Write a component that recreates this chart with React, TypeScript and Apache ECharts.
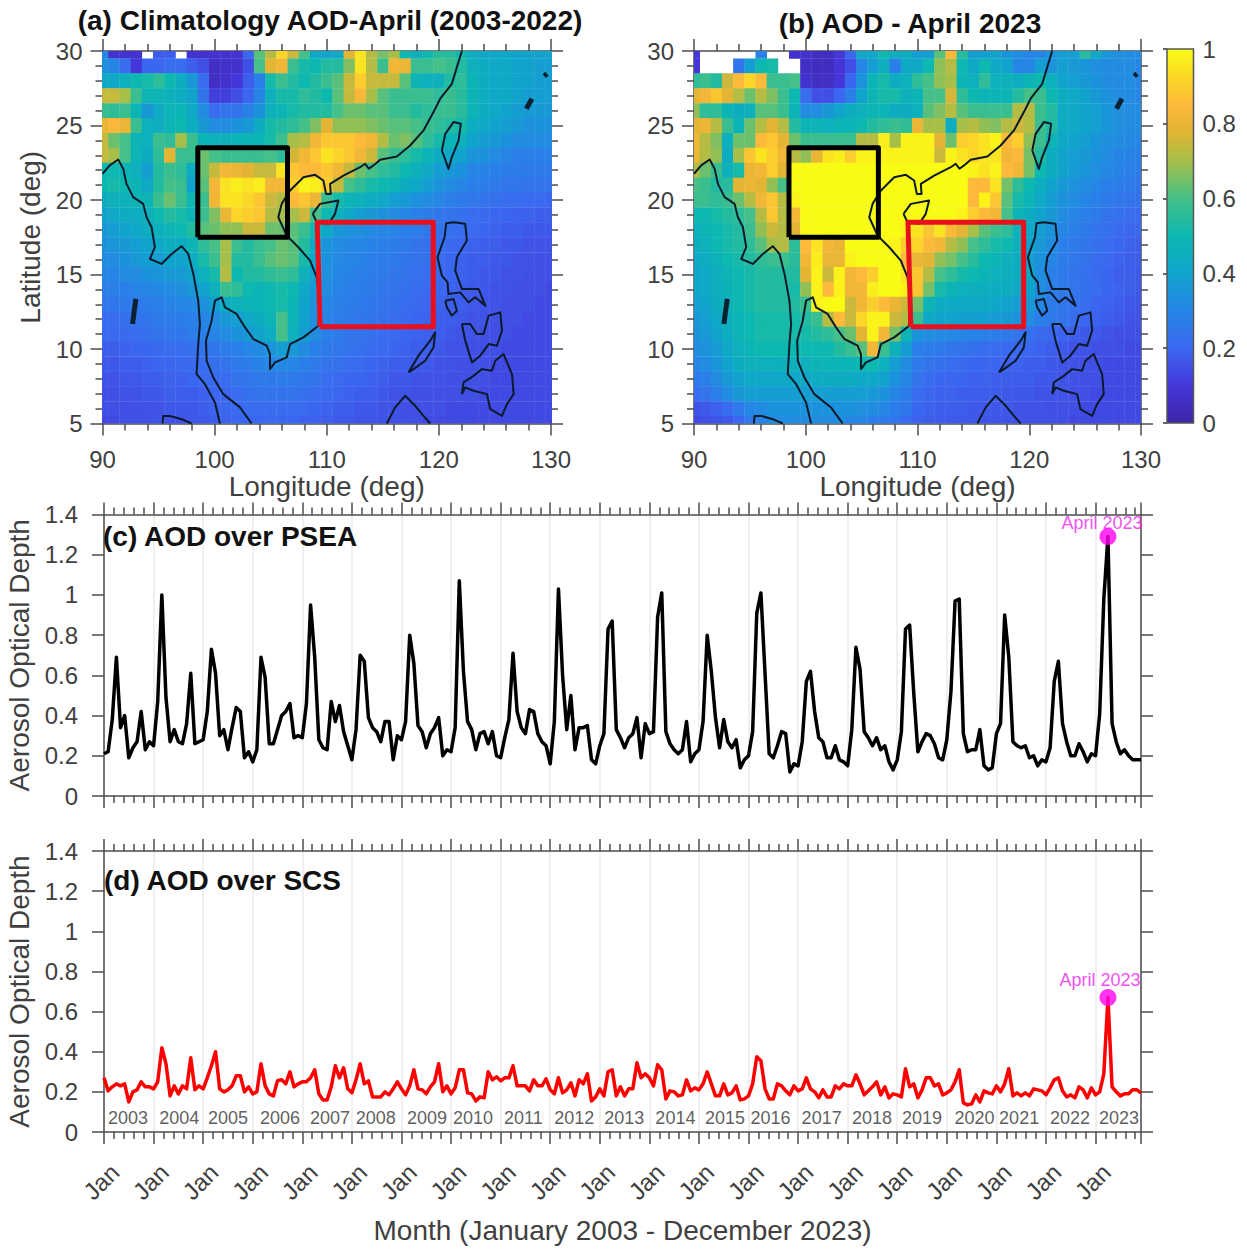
import React, { useEffect, useRef } from "react";
import * as echarts from "echarts";

const _ = null;
const FONT = '"Liberation Sans", Arial, sans-serif';

const latitudes = [30,29,28,27,26,25,24,23,22,21,20,19,18,17,16,15,14,13,12,11,10,9,8,7,6,5];
const longitudeStart = 90;

const climatologyAod = [
[30,8,8,8,_,18,18,_,8,8, 8,8,8,20,62,72,92,75,60,42, 40,42,78,95,72,65,70,50,45,50, 55,55,50,45,42,42,42,40,40,40, 40],
[34,30,22,10,20,20,22,22,18,15, 6,7,8,15,60,78,82,58,52,50, 54,54,66,95,72,58,82,80,58,58, 60,58,54,46,44,42,42,40,40,38, 38],
[42,42,46,50,52,56,50,44,36,22, 6,8,10,18,28,52,58,54,50,54, 58,62,74,90,74,74,74,62,48,46, 46,54,56,48,44,42,42,40,40,38, 38],
[74,74,70,58,48,48,46,44,40,24, 12,12,15,20,30,46,52,52,56,54, 50,62,74,84,70,62,58,58,58,58, 56,58,55,48,44,42,42,40,38,38, 38],
[58,56,58,48,36,42,48,48,42,32, 22,24,24,28,34,46,48,52,54,54, 54,60,64,64,62,62,58,58,54,56, 58,58,55,48,44,42,40,38,36,36, 36],
[80,84,80,58,46,44,48,50,44,36, 32,32,34,36,44,52,54,56,60,66, 78,68,68,68,66,64,62,62,60,58, 56,54,52,44,42,40,38,36,34,34, 34],
[74,64,60,48,46,58,56,70,58,48, 46,46,48,48,48,52,58,70,72,82, 88,88,88,85,82,72,64,66,62,56, 52,48,46,40,38,36,34,32,32,32, 32],
[74,70,60,48,44,56,78,58,58,64, 60,58,58,58,58,60,56,76,82,88, 95,92,88,82,75,62,58,56,52,48, 44,42,40,35,34,32,30,28,28,28, 28],
[50,50,48,46,38,54,58,56,44,64, 74,82,80,78,74,74,95,88,85,85, 88,82,74,64,60,56,54,50,46,42, 38,36,34,30,29,28,27,27,26,26, 26],
[50,52,50,48,42,54,60,58,40,62, 82,95,97,95,97,82,82,90,98,97, 90,74,60,56,52,50,48,44,42,38, 34,32,30,28,27,26,25,25,24,24, 24],
[44,46,46,48,48,58,64,58,50,58, 82,95,95,92,88,75,72,85,88,80, 58,52,48,46,44,42,38,36,34,32, 30,28,26,25,24,23,22,22,21,21, 20],
[40,42,44,44,46,50,54,52,48,58, 66,80,92,90,88,72,70,70,75,60, 50,46,42,38,36,34,32,30,28,27, 25,24,23,22,21,20,20,19,19,18, 18],
[36,38,40,42,44,46,48,50,54,62, 64,68,68,75,75,64,64,62,58,50, 42,36,34,33,31,30,29,28,27,25, 24,23,22,21,20,19,18,18,17,17, 17],
[34,35,36,38,40,42,44,44,48,56, 60,70,58,54,58,60,64,62,54,42, 35,32,31,30,29,28,27,26,24,23, 22,21,20,19,18,18,17,17,16,16, 16],
[32,32,34,36,38,38,40,40,44,52, 58,70,54,54,58,62,64,62,52,40, 34,31,30,29,28,27,26,25,24,23, 22,20,19,18,18,17,17,16,16,15, 15],
[30,30,32,32,34,35,36,37,40,46, 52,72,50,54,54,56,58,56,46,38, 33,30,29,28,27,26,25,24,23,22, 21,20,19,18,17,17,16,16,15,15, 15],
[28,28,28,29,30,31,32,33,36,40, 46,58,56,50,48,50,52,50,42,36, 32,29,28,27,26,25,24,23,22,21, 20,19,18,17,17,16,16,15,15,15, 14],
[25,25,26,26,27,28,29,30,31,34, 38,44,46,48,48,50,52,48,40,34, 30,28,27,26,25,24,23,22,21,20, 19,18,18,17,16,16,15,15,15,14, 14],
[22,22,23,24,25,26,27,27,28,30, 32,36,38,42,44,48,60,48,40,33, 29,27,26,25,24,23,22,21,20,19, 18,18,17,16,16,15,15,15,14,14, 14],
[21,21,21,22,23,24,25,25,27,28, 30,32,34,36,40,44,60,46,38,32, 28,26,25,24,23,22,21,20,19,18, 18,17,16,16,15,15,15,14,14,14, 14],
[18,18,19,20,20,21,22,22,23,24, 25,27,28,30,32,35,38,36,32,28, 26,25,24,23,22,21,20,19,18,18, 17,16,16,15,15,15,14,14,14,14, 14],
[17,17,18,18,19,20,20,21,21,22, 23,24,26,27,29,30,31,30,28,26, 24,23,22,21,20,19,18,18,17,17, 16,16,15,15,15,14,14,14,14,14, 14],
[16,16,17,17,18,18,19,19,20,21, 21,22,24,25,26,26,27,26,25,24, 22,21,20,20,19,18,17,17,16,16, 16,15,15,15,15,14,14,14,14,14, 14],
[15,15,16,16,17,17,18,18,18,19, 20,20,22,23,24,24,24,24,23,22, 21,20,19,18,18,17,16,16,15,15, 15,15,15,15,14,14,14,14,14,14, 14],
[15,15,15,15,16,16,17,17,17,18, 19,20,21,22,22,22,22,22,21,20, 19,18,18,17,17,16,16,15,15,15, 15,14,14,14,14,14,14,14,14,14, 14],
[14,14,15,15,15,16,16,16,17,17, 18,19,20,20,20,21,20,20,19,19, 18,17,17,16,16,16,15,15,15,14, 14,14,14,14,14,14,14,14,14,14, 14],
];

const april2023Aod = [
[10,_,_,_,_,_,28,_,_,8, 8,5,5,10,20,42,42,50,45,45, 38,38,62,85,55,38,38,40,35,32, 30,30,35,38,38,55,42,35,33,32, 32],
[10,_,_,_,25,38,50,52,_,_, 6,5,5,10,15,30,38,45,28,42, 42,50,68,72,50,42,50,42,40,30, 30,38,35,38,36,35,33,32,32,32, 30],
[56,58,54,75,85,92,85,58,58,60, 8,6,6,10,20,34,48,52,44,46, 56,60,68,70,48,46,56,46,46,44, 48,50,46,40,38,36,34,32,32,32, 30],
[78,82,88,78,72,64,72,66,58,50, 22,15,15,20,28,40,48,52,52,46, 48,60,60,76,56,50,48,48,48,54, 60,58,50,44,42,40,36,34,32,32, 30],
[68,56,56,48,44,46,62,62,58,48, 32,32,36,40,44,46,48,48,44,44, 46,62,66,72,62,58,58,58,58,72, 72,58,54,44,42,40,38,35,33,32, 32],
[78,80,72,58,48,64,72,78,72,54, 48,48,46,48,48,50,54,56,58,56, 80,70,70,44,70,72,68,66,72,75, 72,58,54,44,42,40,38,35,33,32, 32],
[82,72,66,46,64,64,85,88,78,64, 58,58,58,58,58,72,72,97,70,98, 98,98,78,64,90,92,95,98,85,90, 68,58,48,42,40,38,35,33,32,31, 30],
[80,72,68,44,70,88,95,90,82,72, 68,80,95,97,90,98,98,98,98,98, 98,98,75,98,95,92,95,95,82,85, 65,54,44,40,38,36,34,32,30,29, 28],
[72,64,58,46,52,80,82,90,78,100, 100,100,100,100,100,100,100,100,100,100, 100,100,100,100,100,98,95,98,85,82, 65,50,44,40,37,35,33,31,29,28, 27],
[60,58,54,55,78,80,78,68,60,100, 100,100,100,100,100,100,100,100,100,100, 100,100,100,100,100,85,85,95,65,56, 50,44,40,36,34,32,30,28,27,26, 25],
[58,58,56,58,64,72,82,88,72,98, 100,100,100,100,100,100,100,100,100,100, 100,100,100,100,100,85,98,88,62,52, 48,42,38,34,32,30,28,26,25,24, 23],
[50,50,52,54,56,60,72,88,72,82, 100,100,100,100,100,100,100,100,100,100, 100,100,100,100,98,90,85,82,60,48, 44,40,36,32,30,28,26,24,23,22, 21],
[46,48,50,52,54,58,68,75,72,78, 100,100,100,100,100,100,100,100,100,98, 95,88,95,85,78,70,62,58,56,46, 42,38,34,30,28,26,24,23,21,20, 20],
[44,46,50,52,54,56,62,70,72,56, 85,95,82,80,100,100,100,100,98,90, 92,85,82,72,68,60,56,52,50,46, 40,36,32,28,26,25,23,22,20,19, 18],
[42,44,47,50,52,54,56,58,58,55, 82,97,80,80,98,100,100,100,100,85, 80,78,68,65,60,55,50,48,46,44, 38,34,30,27,25,24,22,21,19,18, 18],
[40,42,45,48,50,52,54,54,54,54, 78,98,75,98,82,85,90,100,100,95, 88,72,60,56,52,50,48,46,45,44, 42,32,28,26,24,23,21,20,18,18, 17],
[40,42,45,47,50,52,54,54,54,52, 68,98,85,98,82,82,97,100,100,98, 88,65,52,48,46,45,45,44,44,42, 40,32,28,26,25,23,22,20,19,18, 17],
[38,40,44,46,50,52,54,54,54,54, 58,98,100,100,75,82,90,85,80,75, 65,48,44,43,42,42,42,41,40,38, 36,30,27,25,23,22,20,19,18,17, 16],
[36,38,42,46,48,50,52,52,52,52, 54,58,72,85,75,92,98,98,75,72, 58,42,40,40,39,39,38,37,36,34, 32,28,26,24,22,20,19,18,17,16, 16],
[34,36,40,44,48,50,52,52,52,52, 52,54,56,60,64,78,98,82,65,48, 34,32,31,31,30,29,28,27,26,24, 23,21,20,19,18,17,17,16,15,15, 15],
[32,34,37,42,46,48,50,50,50,50, 50,50,50,54,58,62,82,58,46,38, 28,27,26,25,24,23,22,22,21,20, 20,19,18,17,16,16,15,15,15,14, 14],
[30,32,35,40,44,46,46,46,46,46, 46,48,48,48,48,50,50,46,38,32, 26,24,23,22,21,20,20,20,19,19, 18,18,17,16,16,15,15,14,14,14, 14],
[26,28,32,36,40,42,42,42,42,42, 42,44,44,44,44,42,42,40,34,30, 24,22,20,20,20,19,19,18,18,18, 18,17,17,16,16,15,15,14,14,14, 14],
[22,24,28,32,36,38,38,38,38,38, 38,38,38,38,38,38,36,34,30,27, 22,20,19,19,18,18,18,18,17,17, 17,16,16,16,15,15,14,14,14,14, 14],
[16,17,19,22,26,30,32,34,34,34, 34,34,34,34,34,33,32,30,27,25, 20,19,18,18,18,17,17,17,17,16, 16,16,15,15,15,14,14,14,14,14, 14],
[14,15,16,17,20,26,30,32,32,32, 32,32,32,32,30,30,28,26,25,22, 19,18,18,17,17,17,16,16,16,16, 15,15,15,15,14,14,14,14,14,14, 14],
];

const coastThin: number[][][] = [
[[90,21.76],[90.65,22.32],[91.4,22.72],[91.85,22.09],[92.14,21.08],[92.74,20.19],[93.63,19.74],[93.93,18.84],[94.38,18.17],[94.67,16.83],[94.23,16.04],[95.27,15.71],[96.16,16.38],[97.05,16.9],[97.65,16.38],[98.1,15.04],[98.54,13.24],[98.69,11.68],[98.54,10.33],[98.39,8.32],[99.14,7.64],[100.03,6.41],[100.48,5]],
[[103.3,5],[102.26,6.08],[100.77,6.97],[99.88,8.09],[99.29,9.21],[99.23,10.56],[99.73,11.9],[100.03,13.24],[100.63,13.47],[100.92,12.8],[101.96,12.35],[102.71,11.45],[103.45,10.67],[104.64,10.22],[104.94,9.66],[104.94,8.65],[105.39,9.1],[106.43,9.44],[106.73,10.33],[107.92,10.78],[109.26,11.56],[109.4,13.02],[109.11,14.81],[108.51,15.93],[107.47,16.83],[106.43,17.61],[105.68,18.84],[105.98,19.74],[106.73,20.64],[107.92,21.53],[108.96,21.69],[109.7,21.31],[109.94,20.41],[110.36,20.41],[110.3,21.08],[111.49,21.64],[112.98,22.2],[113.42,22.43],[113.75,22.1],[114.17,22.32],[114.76,22.7],[116.25,22.92],[117.44,23.66],[118.63,24.67],[119.52,25.9],[120.12,26.8],[121.16,27.8],[121.61,28.92],[122.05,30]],
[[108.75,19.07],[109.4,19.74],[111.04,19.96],[110.74,19.07],[110.15,18.4],[109.11,18.51],[108.75,19.07]],
[[120.27,23.32],[120.57,24.44],[121.31,25.23],[121.96,25.12],[121.76,24],[121.16,22.88],[120.86,22.09],[120.27,23.32]],
[[120.51,17.5],[120.65,18.44],[121.31,18.51],[122.35,18.4],[122.5,17.28],[121.61,16.16],[121.46,15.26],[122.05,14.03],[122.8,14.03],[123.54,14.03],[124.14,12.91],[123.24,13.47],[122.65,13.13],[121.9,13.8],[120.86,13.69],[120.77,14.48],[120.27,14.92],[119.88,16.16],[120.51,17.5]],
[[120.57,13.24],[121.31,13.36],[121.61,12.57],[121.16,12.24],[120.71,12.8],[120.57,13.24]],
[[122.05,11.68],[122.8,11.68],[123.39,11],[123.99,11],[124.44,12.24],[125.48,12.46],[125.63,11.23],[125.18,10.22],[124.44,10.33],[123.69,9.55],[122.95,9.1],[122.35,10.56],[122.05,11.68]],
[[122.05,6.97],[122.2,7.76],[123.1,8.2],[123.84,8.65],[124.73,8.54],[125.03,9.21],[125.77,9.66],[126.52,8.32],[126.67,6.97],[126.07,6.3],[125.63,5.51],[124.58,5.96],[124.29,6.97],[123.1,7.2],[122.35,7.42],[122.05,6.97]],
[[117.29,8.43],[118.18,9.55],[119.23,10.56],[119.67,11.12],[119.52,10.11],[118.78,9.21],[117.74,8.65],[117.29,8.43]],
[[115.36,5],[116.1,6.08],[116.99,6.86],[117.89,6.19],[118.63,5.51],[119.23,5]],
[[95.36,5],[95.42,5.51],[96.01,5.51],[97.05,5.29],[97.95,5]],
];
const coastThick: number[][][] = [
[[92.68,11.68],[92.83,12.57],[92.98,13.36]],
[[129.4,28.32],[129.64,28.48]],
[[127.8,26.12],[128.3,26.8]],
];

const psBox = [[98.5,17.5],[106.5,17.5],[106.5,23.5],[98.5,23.5],[98.5,17.5]];
const scsBox = [[109.4,11.5],[119.5,11.5],[119.5,18.5],[109.15,18.5],[109.4,11.5]];

const pseaAod = [
0.21,0.22,0.38,0.69,0.34,0.40,0.19,0.24,0.27,0.42,0.23,0.27,
0.25,0.47,1.00,0.49,0.27,0.33,0.27,0.26,0.36,0.61,0.26,0.27,
0.28,0.42,0.73,0.61,0.30,0.33,0.23,0.34,0.44,0.42,0.19,0.22,
0.17,0.23,0.69,0.59,0.26,0.26,0.33,0.40,0.42,0.46,0.29,0.30,
0.29,0.46,0.95,0.69,0.28,0.24,0.23,0.47,0.37,0.45,0.32,0.25,
0.18,0.33,0.70,0.67,0.39,0.34,0.32,0.27,0.37,0.37,0.18,0.30,
0.28,0.37,0.80,0.66,0.35,0.32,0.24,0.31,0.34,0.39,0.20,0.23,
0.22,0.34,1.07,0.62,0.37,0.33,0.23,0.31,0.32,0.26,0.32,0.20,
0.19,0.29,0.38,0.71,0.42,0.34,0.31,0.43,0.42,0.31,0.27,0.25,
0.16,0.37,1.03,0.60,0.33,0.50,0.23,0.34,0.34,0.35,0.18,0.16,
0.25,0.31,0.83,0.87,0.33,0.29,0.24,0.29,0.31,0.39,0.19,0.36,
0.31,0.32,0.89,1.01,0.32,0.26,0.23,0.21,0.23,0.37,0.17,0.21,
0.23,0.37,0.80,0.62,0.39,0.24,0.38,0.27,0.24,0.28,0.14,0.18,
0.20,0.32,0.91,1.01,0.61,0.21,0.19,0.25,0.32,0.31,0.12,0.16,
0.15,0.27,0.57,0.62,0.42,0.29,0.27,0.19,0.19,0.25,0.18,0.17,
0.15,0.33,0.74,0.63,0.32,0.29,0.25,0.29,0.23,0.25,0.17,0.13,
0.18,0.32,0.83,0.85,0.51,0.22,0.27,0.31,0.30,0.26,0.19,0.18,
0.28,0.52,0.97,0.98,0.31,0.22,0.23,0.23,0.33,0.15,0.13,0.14,
0.31,0.36,0.90,0.69,0.27,0.25,0.24,0.25,0.19,0.20,0.15,0.18,
0.17,0.24,0.57,0.67,0.36,0.27,0.20,0.20,0.26,0.22,0.17,0.21,
0.20,0.41,0.98,1.29,0.36,0.27,0.21,0.23,0.20,0.18,0.18,0.18,
];

const scsAod = [
0.27,0.205,0.225,0.24,0.23,0.24,0.15,0.20,0.21,0.25,0.225,0.225,
0.215,0.25,0.42,0.34,0.18,0.23,0.19,0.23,0.215,0.37,0.21,0.23,
0.215,0.27,0.33,0.40,0.215,0.20,0.21,0.23,0.28,0.28,0.20,0.225,
0.19,0.20,0.34,0.23,0.19,0.18,0.255,0.26,0.24,0.30,0.225,0.24,
0.25,0.25,0.27,0.31,0.19,0.16,0.16,0.225,0.33,0.27,0.32,0.215,
0.195,0.26,0.34,0.24,0.255,0.175,0.175,0.175,0.20,0.185,0.215,0.25,
0.215,0.185,0.23,0.31,0.215,0.21,0.19,0.225,0.25,0.34,0.20,0.23,
0.19,0.22,0.31,0.31,0.195,0.19,0.155,0.175,0.17,0.30,0.26,0.275,
0.255,0.27,0.27,0.33,0.23,0.23,0.23,0.205,0.26,0.23,0.23,0.265,
0.21,0.19,0.27,0.195,0.21,0.245,0.18,0.26,0.24,0.29,0.155,0.175,
0.215,0.18,0.30,0.31,0.18,0.225,0.18,0.215,0.215,0.345,0.27,0.29,
0.27,0.23,0.335,0.31,0.165,0.205,0.20,0.18,0.185,0.26,0.205,0.22,
0.21,0.24,0.30,0.24,0.18,0.18,0.24,0.185,0.195,0.23,0.16,0.165,
0.18,0.24,0.375,0.355,0.215,0.165,0.165,0.24,0.23,0.205,0.185,0.23,
0.205,0.215,0.27,0.215,0.20,0.17,0.21,0.175,0.175,0.23,0.215,0.24,
0.23,0.23,0.285,0.24,0.185,0.205,0.225,0.25,0.185,0.225,0.17,0.19,
0.185,0.175,0.315,0.225,0.24,0.17,0.21,0.27,0.27,0.23,0.24,0.185,
0.195,0.21,0.25,0.31,0.145,0.135,0.14,0.185,0.15,0.205,0.195,0.19,
0.23,0.20,0.24,0.315,0.18,0.195,0.18,0.195,0.18,0.215,0.21,0.205,
0.185,0.22,0.26,0.27,0.205,0.175,0.185,0.17,0.225,0.21,0.17,0.22,
0.185,0.20,0.29,0.67,0.225,0.20,0.18,0.19,0.19,0.21,0.21,0.195,
];

const yearLabels = ["2003","2004","2005","2006","2007","2008","2009","2010","2011","2012","2013","2014","2015","2016","2017","2018","2019","2020","2021","2022","2023"];
const yearLabelMonths = [5.8,18.2,30,42.6,54.7,65.8,78.2,89.3,101.5,113.8,125.9,138.3,150.3,161.3,173.7,185.9,198,210.7,221.5,233.8,245.7];
const yearLabelLevel = 0.07;
const highlightMonth = 243;
const highlightLabel = "April 2023";
const janLabel = "Jan";

const parulaStops: [number, string][] = [
  [0, "#3e26a8"],[0.1, "#4436d8"],[0.2, "#3b67f0"],[0.3, "#2686e6"],[0.4, "#10a4cc"],
  [0.5, "#0cb8b0"],[0.6, "#45c088"],[0.7, "#a5bf48"],[0.78, "#e4b434"],[0.85, "#fdb93a"],
  [0.92, "#fbd628"],[1, "#f9fb14"],
];

function hexToRgb(h: string) {
  return [1, 3, 5].map((i) => parseInt(h.slice(i, i + 2), 16));
}
function parula(v: number) {
  const t = Math.max(0, Math.min(1, v));
  for (let i = 1; i < parulaStops.length; i++) {
    if (t <= parulaStops[i][0]) {
      const [a, ca] = parulaStops[i - 1];
      const [b, cb] = parulaStops[i];
      const f = (t - a) / (b - a);
      const A = hexToRgb(ca);
      const B = hexToRgb(cb);
      return `rgb(${A.map((x, k) => Math.round(x + (B[k] - x) * f)).join(",")})`;
    }
  }
  return parulaStops[parulaStops.length - 1][1];
}

function cells(rows: (number | null)[][]) {
  const out: number[][] = [];
  rows.forEach((row, r) =>
    row.forEach((v, c) => {
      if (v !== null) out.push([longitudeStart + c, latitudes[r], v / 100]);
    })
  );
  return out;
}

const AXIS = "#4d4d4d";
const TEXT = "#404040";

const heatRender = (_p: any, api: any) => {
  const lon = api.value(0);
  const lat = api.value(1);
  const p0 = api.coord([lon - 0.5, lat + 0.5]);
  const p1 = api.coord([lon + 0.5, lat - 0.5]);
  return {
    type: "rect",
    shape: { x: p0[0], y: p0[1], width: p1[0] - p0[0] + 0.4, height: p1[1] - p0[1] + 0.4 },
    style: { fill: parula(api.value(2)) },
  };
};

const axisBase = (extra: any) => ({
  type: "value",
  axisLine: { show: true, onZero: false, lineStyle: { color: AXIS, width: 1.5 } },
  axisTick: { show: true, length: 12, inside: false, lineStyle: { color: AXIS, width: 1.5 } },
  splitLine: { show: false },
  ...extra,
});
const withLabels = (margin: number) => ({
  show: true, margin, fontFamily: FONT, fontSize: 24, color: TEXT,
});
const minor = (splitNumber: number) => ({
  show: true, splitNumber, length: 7, lineStyle: { color: AXIS, width: 1.5 },
});
const nameStyle = { fontFamily: FONT, fontSize: 28, color: TEXT };

function mapAxes(gridIndex: number, withLat: boolean) {
  const x = { min: 90, max: 130, interval: 10, gridIndex, minorTick: minor(5) };
  const y = { min: 5, max: 30, interval: 5, gridIndex, minorTick: minor(5) };
  return {
    xs: [
      axisBase({ ...x, position: "bottom", axisLabel: withLabels(24), name: "Longitude (deg)", nameLocation: "middle", nameGap: 45, nameTextStyle: nameStyle }),
      axisBase({ ...x, position: "top", axisLabel: { show: false } }),
    ],
    ys: [
      axisBase({
        ...y, position: "left", axisLabel: withLabels(20),
        ...(withLat ? { name: "Latitude (deg)", nameLocation: "middle", nameGap: 58, nameTextStyle: nameStyle } : {}),
      }),
      axisBase({ ...y, position: "right", axisLabel: { show: false } }),
    ],
  };
}

function seriesAxes(gridIndex: number, showLabels: boolean, named: boolean) {
  const x = { min: 0, max: 251, interval: 12, gridIndex, minorTick: minor(5) };
  const y = { min: 0, max: 1.4, interval: 0.2, gridIndex };
  return {
    xs: [
      axisBase({
        ...x, position: "bottom",
        splitLine: { show: true, lineStyle: { color: "#ebebeb", width: 1.5 } },
        axisLabel: showLabels
          ? { ...withLabels(47), rotate: 45, align: "center", verticalAlign: "middle", padding: [0, 8, 0, 0], formatter: (v: number) => (v === 251 ? "" : janLabel) }
          : { show: false },
        ...(named ? { name: "Month (January 2003 - December 2023)", nameLocation: "middle", nameGap: 84, nameTextStyle: nameStyle } : {}),
      }),
      axisBase({ ...x, position: "top", axisLabel: { show: false } }),
    ],
    ys: [
      axisBase({
        ...y, position: "left", axisLabel: withLabels(26),
        name: "Aerosol Optical Depth", nameLocation: "middle", nameGap: 70, nameTextStyle: nameStyle,
      }),
      axisBase({ ...y, position: "right", axisLabel: { show: false } }),
    ],
  };
}

function mapSeries(idx: number, rows: (number | null)[][]) {
  const xAxisIndex = idx;
  const yAxisIndex = idx;
  const common = { xAxisIndex, yAxisIndex, silent: true };
  const path = (data: number[][], color: string, width: number, z: number) => ({
    ...common, type: "line", data, symbol: "none", z,
    lineStyle: { color, width, join: "round" }, clip: true,
  });
  return [
    { ...common, type: "custom", renderItem: heatRender, data: cells(rows), clip: true, z: 1 },
    ...coastThin.map((d) => path(d, "#0b1a2b", 2, 3)),
    ...coastThick.map((d) => path(d, "#0b2030", 5, 3)),
    path(psBox, "#000000", 5, 4),
    path(scsBox, "#e8101c", 5, 4),
  ];
}

function tsSeries(idx: number, values: number[], color: string, labelOffset: number[]) {
  const common = { xAxisIndex: idx, yAxisIndex: idx, silent: true };
  return [
    {
      ...common, type: "line", data: values.map((v, i) => [i, v]), symbol: "none", z: 3,
      lineStyle: { color, width: 3.5, join: "round" },
    },
    {
      ...common, type: "scatter", data: [[highlightMonth, values[highlightMonth]]],
      symbol: "circle", symbolSize: 17, z: 5, itemStyle: { color: "#ff00ee" },
      label: {
        show: true, position: "top", distance: 0, offset: labelOffset, formatter: highlightLabel,
        fontFamily: FONT, fontSize: 18, color: "#f020f0",
      },
    },
  ];
}

const a = mapAxes(0, true);
const b = mapAxes(1, false);
const c = seriesAxes(3, false, false);
const d = seriesAxes(4, true, true);

const option: any = {
  animation: false,
  backgroundColor: "#ffffff",
  grid: [
    { left: 102.5, top: 51, width: 448.5, height: 372.5, outerBoundsMode: "none" },
    { left: 694, top: 51, width: 447, height: 372.5, outerBoundsMode: "none" },
    { left: 1167, top: 49, width: 26.5, height: 374, outerBoundsMode: "none" },
    { left: 104, top: 514.5, width: 1037, height: 281.5, outerBoundsMode: "none" },
    { left: 104, top: 851, width: 1037, height: 281, outerBoundsMode: "none" },
  ],
  xAxis: [
    ...a.xs,
    ...b.xs,
    { type: "value", gridIndex: 2, min: 0, max: 1, show: false, splitLine: { show: false } },
    ...c.xs,
    ...d.xs,
  ],
  yAxis: [
    ...a.ys,
    ...b.ys,
    axisBase({
      gridIndex: 2, min: 0, max: 1, interval: 0.2, position: "right",
      axisLine: { show: false },
      axisTick: { show: true, inside: true, length: 4, lineStyle: { color: "#333", width: 1.5 } },
      axisLabel: withLabels(9),
    }),
    ...c.ys,
    ...d.ys,
  ],
  series: [
    ...mapSeries(0, climatologyAod),
    ...mapSeries(2, april2023Aod),
    {
      type: "custom", xAxisIndex: 4, yAxisIndex: 4, silent: true, z: 1, data: [[0, 1]],
      renderItem: (_p: any, api: any) => {
        const p0 = api.coord([0, 1]);
        const p1 = api.coord([1, 0]);
        return {
          type: "rect",
          shape: { x: p0[0], y: p0[1], width: p1[0] - p0[0], height: p1[1] - p0[1] },
          style: {
            stroke: "#555",
            lineWidth: 1.5,
            fill: new echarts.graphic.LinearGradient(0, 1, 0, 0,
              parulaStops.map(([offset, color]) => ({ offset, color }))),
          },
        };
      },
    },
    ...tsSeries(5, pseaAod, "#000000", [-6, 4]),
    ...tsSeries(7, scsAod, "#ff0000", [-8, 0]),
    {
      type: "scatter", xAxisIndex: 7, yAxisIndex: 7, silent: true, symbolSize: 0, z: 6,
      data: yearLabelMonths.map((m) => [m, yearLabelLevel]),
      label: {
        show: true, position: "inside", fontFamily: FONT, fontSize: 18, color: "#333",
        formatter: (p: any) => yearLabels[p.dataIndex],
      },
    },
  ],
  graphic: {
    elements: [
      ["(a) Climatology AOD-April (2003-2022)", 330, 20, "center"],
      ["(b) AOD - April 2023", 910, 23, "center"],
      ["(c) AOD over PSEA", 103, 536, "left"],
      ["(d) AOD over SCS", 104, 880, "left"],
    ].map(([text, x, y, align]) => ({
      type: "text", x, y, z: 10, silent: true,
      style: { text, align, verticalAlign: "middle", font: `bold 28px ${FONT}`, fill: "#111" },
    })),
  },
};

export default function App() {
  const ref = useRef<HTMLDivElement>(null);
  useEffect(() => {
    const chart = echarts.init(ref.current!, undefined, { renderer: "svg" });
    chart.setOption(option);
    return () => chart.dispose();
  }, []);
  return <div ref={ref} style={{ position: "absolute", left: 0, top: 0, width: 1247, height: 1249 }} />;
}
